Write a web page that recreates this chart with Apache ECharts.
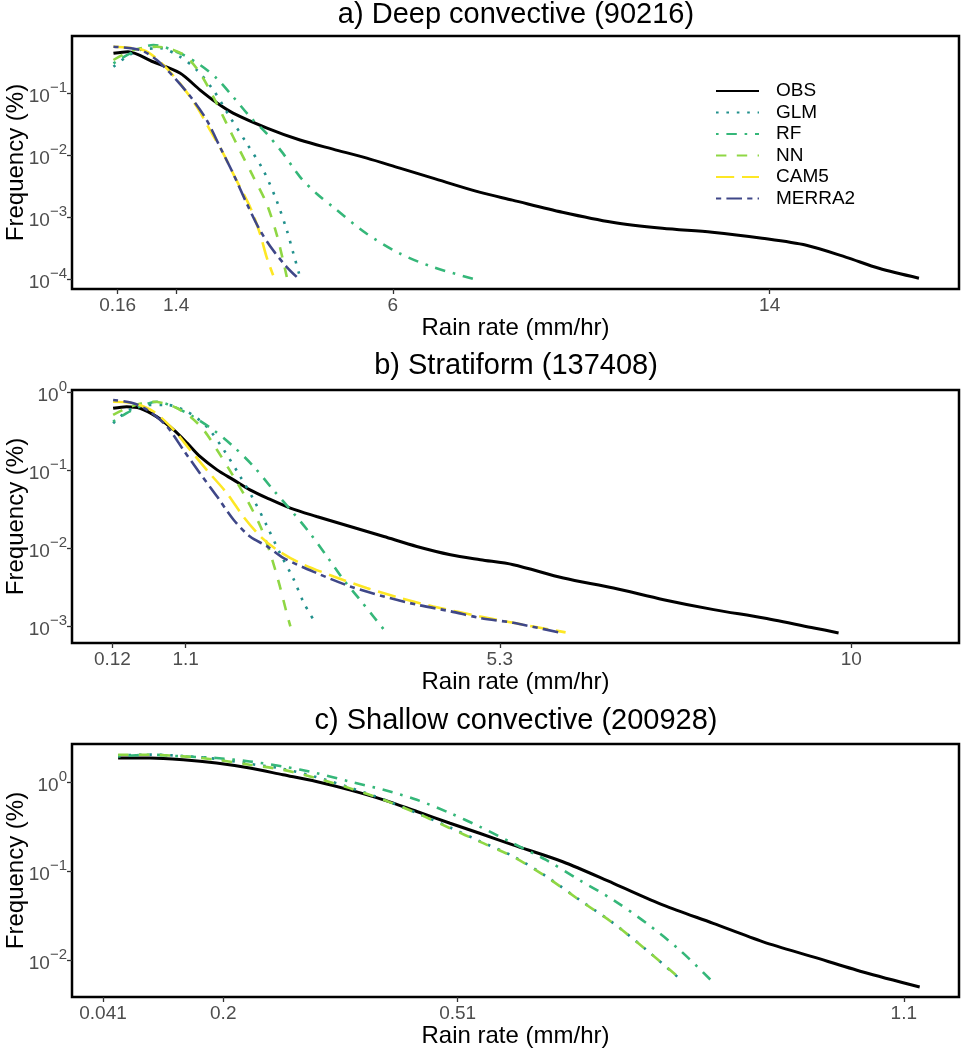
<!DOCTYPE html>
<html>
<head>
<meta charset="utf-8">
<script src="https://cdn.jsdelivr.net/npm/echarts@6/dist/echarts.min.js"></script>
<style>
  html, body { margin: 0; background: #fff; }
  #chart { width: 962px; height: 1050px; }
</style>
</head>
<body>
<div id="chart"></div>
<script>
// ---- data (rain rate mm/hr, frequency %) ----
const modelNames = ['OBS', 'GLM', 'RF', 'NN', 'CAM5', 'MERRA2']

// a) Deep convective
const deepTicksX = [0.16, 1.4, 6, 14]
const deepTicksY = [1e-4, 1e-3, 1e-2, 1e-1]
const deepOBS = [[0.07,0.444],[0.38,0.471],[0.91,0.324],[1.48,0.213],[1.91,0.113],[2.27,0.0697],[2.61,0.048],[3.33,0.0275],[4.03,0.0176],[4.73,0.01255],[5.45,0.00898],[6.15,0.00618],[6.85,0.00426],[7.84,0.00253],[8.54,0.00188],[9.6,0.0012],[10.66,0.000826],[11.72,0.00066],[12.78,0.00057],[13.84,0.000456],[14.78,0.000351],[15.63,0.000224],[16.32,0.000149],[17.17,0.000103]]
const deepGLM = [[0.07,0.269],[0.35,0.391],[0.63,0.502],[1.06,0.535],[1.48,0.391],[1.84,0.238],[2.19,0.113],[2.54,0.0418],[2.9,0.0155],[3.25,0.00574],[3.53,0.00188],[3.75,0.000614],[3.89,0.000258],[4.03,0.000108]]
const deepRF = [[0.07,0.305],[0.49,0.471],[0.92,0.605],[1.48,0.444],[1.91,0.287],[2.26,0.175],[2.61,0.088],[2.97,0.0418],[3.32,0.0225],[3.67,0.0107],[4.03,0.00447],[4.38,0.00241],[4.73,0.00146],[5.44,0.000543],[6.15,0.000258],[6.85,0.000156],[7.7,0.000101]]
const deepNN = [[0.07,0.346],[0.49,0.502],[0.99,0.567],[1.34,0.502],[1.62,0.391],[1.91,0.211],[2.19,0.088],[2.47,0.0327],[2.75,0.0121],[3.04,0.00447],[3.32,0.00166],[3.53,0.000543],[3.67,0.000201],[3.75,0.000108]]
const deepCAM5 = [[0.07,0.567],[0.7,0.502],[1.06,0.324],[1.48,0.145],[1.84,0.0607],[2.12,0.0255],[2.4,0.0107],[2.68,0.00395],[2.97,0.00146],[3.18,0.000543],[3.32,0.000227],[3.46,0.000115]]
const deepMERRA2 = [[0.07,0.567],[0.63,0.502],[0.99,0.346],[1.41,0.164],[1.76,0.078],[2.05,0.037],[2.33,0.01368],[2.61,0.00508],[2.9,0.00166],[3.18,0.000614],[3.46,0.000291],[3.75,0.000156],[3.96,0.000108]]

// b) Stratiform
const stratTicksX = [0.12, 1.1, 5.3, 10]
const stratTicksY = [1e-3, 1e-2, 1e-1, 1]
const stratOBS = [[0.13,0.628],[0.31,0.658],[0.49,0.628],[0.71,0.49],[0.94,0.331],[1.12,0.224],[1.29,0.151],[1.52,0.1017],[1.74,0.0757],[1.96,0.0564],[2.19,0.0442],[2.5,0.0329],[2.85,0.0257],[3.3,0.0191],[3.75,0.01422],[4.19,0.0106],[4.64,0.0083],[5.04,0.00716],[5.48,0.00618],[6.15,0.00417],[6.82,0.0031],[7.49,0.0022],[8.16,0.00164],[8.83,0.00128],[9.5,0.000955],[9.83,0.000824]]
const stratGLM = [[0.13,0.403],[0.31,0.568],[0.54,0.692],[0.85,0.692],[1.12,0.568],[1.38,0.365],[1.61,0.183],[1.83,0.0834],[2.01,0.042],[2.19,0.0191],[2.36,0.00871],[2.54,0.00409],[2.68,0.002],[2.85,0.00105]]
const stratRF = [[0.13,0.423],[0.31,0.542],[0.49,0.658],[0.71,0.762],[0.94,0.658],[1.2,0.49],[1.47,0.331],[1.74,0.202],[2.01,0.112],[2.27,0.0564],[2.54,0.0284],[2.76,0.0157],[2.99,0.00788],[3.21,0.00396],[3.43,0.0022],[3.61,0.00134],[3.77,0.000863]]
const stratNN = [[0.13,0.515],[0.36,0.658],[0.67,0.762],[0.94,0.658],[1.16,0.49],[1.34,0.331],[1.52,0.183],[1.74,0.0834],[1.92,0.042],[2.1,0.0191],[2.23,0.00871],[2.36,0.00325],[2.45,0.00149],[2.5,0.001]]
const stratCAM5 = [[0.13,0.762],[0.4,0.727],[0.67,0.568],[0.94,0.331],[1.16,0.183],[1.38,0.1017],[1.65,0.0512],[1.87,0.0257],[2.1,0.01422],[2.32,0.0096],[2.63,0.00649],[3.08,0.00437],[3.52,0.0031],[3.97,0.00231],[4.41,0.0018],[5.04,0.00134],[5.48,0.00111],[6.18,0.000838]]
const stratMERRA2 = [[0.13,0.802],[0.4,0.727],[0.62,0.568],[0.85,0.365],[1.07,0.183],[1.29,0.0922],[1.52,0.0463],[1.74,0.0233],[1.96,0.01422],[2.19,0.0106],[2.41,0.00752],[2.85,0.00483],[3.3,0.00325],[3.75,0.00242],[4.19,0.0019],[4.64,0.00156],[5.04,0.00128],[5.48,0.00111],[6.11,0.00083]]

// c) Shallow convective
const shallowTicksX = [0.041, 0.2, 0.51, 1.1]
const shallowTicksY = [1e-2, 1e-1, 1]
const shallowOBS = [[0.061,1.862],[0.103,1.862],[0.147,1.78],[0.191,1.634],[0.235,1.436],[0.279,1.208],[0.323,1.016],[0.367,0.819],[0.412,0.633],[0.456,0.468],[0.5,0.346],[0.539,0.267],[0.583,0.1976],[0.649,0.128],[0.716,0.0733],[0.782,0.0418],[0.848,0.0261],[0.914,0.0162],[0.98,0.01097],[1.046,0.00744],[1.121,0.00505]]
const shallowGLM = [[0.061,2.0],[0.103,2.03],[0.147,1.96],[0.191,1.82],[0.235,1.6],[0.279,1.41],[0.323,1.14],[0.367,0.87],[0.412,0.64],[0.456,0.45],[0.5,0.31],[0.539,0.218],[0.583,0.148],[0.627,0.088],[0.671,0.048],[0.716,0.0262],[0.76,0.0131],[0.804,0.0062]]
const shallowRF = [[0.061,1.94],[0.103,2.026],[0.147,1.94],[0.191,1.862],[0.235,1.704],[0.279,1.497],[0.323,1.262],[0.367,1.016],[0.412,0.819],[0.456,0.633],[0.5,0.449],[0.539,0.317],[0.583,0.2063],[0.627,0.134],[0.671,0.0798],[0.716,0.0476],[0.76,0.0261],[0.804,0.01305],[0.846,0.0059]]
const shallowNN = [[0.061,2.026],[0.103,2.026],[0.147,1.94],[0.191,1.78],[0.235,1.564],[0.279,1.374],[0.323,1.109],[0.367,0.856],[0.412,0.633],[0.456,0.449],[0.5,0.304],[0.539,0.215],[0.583,0.146],[0.627,0.087],[0.671,0.0476],[0.716,0.0261],[0.76,0.01305],[0.804,0.00628]]

// ---- styling ----
const FONT = '"Liberation Sans", Arial, sans-serif'
const lineLook = {
  OBS: { color: '#000000', width: 3, type: 'solid' },
  GLM: { color: '#21908C', width: 2.6, type: [2.6, 7.8] },
  RF: { color: '#35B779', width: 2.6, type: [2.6, 7.8, 10.4, 7.8] },
  NN: { color: '#8FD744', width: 2.6, type: [10.4, 10.4] },
  CAM5: { color: '#FDE725', width: 2.6, type: [18.2, 7.8] },
  MERRA2: { color: '#3F4788', width: 2.6, type: [5.2, 5.2, 15.6, 5.2] }
}

const panels = [
  { title: 'a) Deep convective (90216)', titleTop: 0, top: 36, xMin: -0.81, xMax: 18.02, yMin: 6.89e-5, yMax: 0.845,
    ticksX: deepTicksX, ticksY: deepTicksY,
    lines: { OBS: deepOBS, GLM: deepGLM, RF: deepRF, NN: deepNN, CAM5: deepCAM5, MERRA2: deepMERRA2 } },
  { title: 'b) Stratiform (137408)', titleTop: 351, top: 390, xMin: -0.42, xMax: 11.44, yMin: 6.12e-4, yMax: 1.076,
    ticksX: stratTicksX, ticksY: stratTicksY,
    lines: { OBS: stratOBS, GLM: stratGLM, RF: stratRF, NN: stratNN, CAM5: stratCAM5, MERRA2: stratMERRA2 } },
  { title: 'c) Shallow convective (200928)', titleTop: 706, top: 744, xMin: 0, xMax: 1.173, yMin: 3.9e-3, yMax: 2.673,
    ticksX: shallowTicksX, ticksY: shallowTicksY,
    lines: { OBS: shallowOBS, GLM: shallowGLM, RF: shallowRF, NN: shallowNN } }
]

const powLabel = (v) => {
  const e = Math.round(Math.log10(v))
  return '{b|10}{s|' + (e < 0 ? '\u2212' + (-e) : e) + '}'
}

const tickLabel = { fontSize: 19, color: '#4D4D4D', fontFamily: FONT }

const option = {
  animation: false,
  backgroundColor: '#fff',
  textStyle: { fontFamily: FONT },
  title: panels.map((p) => ({
    text: p.title, left: 516, top: p.titleTop, textAlign: 'center', padding: 0,
    textStyle: { fontSize: 29, fontWeight: 'normal', color: '#000', fontFamily: FONT }
  })),
  legend: {
    data: modelNames, orient: 'vertical', left: 715, top: 81.5, padding: 0,
    itemWidth: 43, itemHeight: 14, itemGap: 2.5,
    itemStyle: { opacity: 0 },
    textStyle: { fontSize: 19, color: '#000', fontFamily: FONT, padding: [0, 0, 0, 12] }
  },
  grid: panels.map((p) => ({
    left: 72, top: p.top, width: 887, height: 253, outerBoundsMode: 'none',
    show: true, borderColor: '#000', borderWidth: 2.5, backgroundColor: 'transparent'
  })),
  xAxis: panels.map((p, i) => ({
    type: 'value', gridIndex: i, min: p.xMin, max: p.xMax,
    axisLine: { show: false, onZero: false }, splitLine: { show: false },
    axisTick: { show: true, customValues: p.ticksX, length: 5, lineStyle: { color: '#333', width: 1.3 } },
    axisLabel: { customValues: p.ticksX, margin: 7, ...tickLabel },
    name: 'Rain rate (mm/hr)', nameLocation: 'middle', nameGap: 26,
    nameTextStyle: { fontSize: 24, color: '#000', fontFamily: FONT }
  })),
  yAxis: panels.map((p, i) => ({
    type: 'log', gridIndex: i, min: p.yMin, max: p.yMax,
    axisLine: { show: false, onZero: false }, splitLine: { show: false },
    axisTick: { show: true, customValues: p.ticksY, length: 5, lineStyle: { color: '#333', width: 1.3 } },
    axisLabel: {
      customValues: p.ticksY, margin: 5, formatter: powLabel,
      rich: {
        b: { ...tickLabel, lineHeight: 26, verticalAlign: 'bottom' },
        s: { ...tickLabel, fontSize: 15, lineHeight: 14, verticalAlign: 'top' }
      }
    },
    name: 'Frequency (%)', nameLocation: 'middle', nameGap: 44, nameMoveOverlap: false,
    nameTextStyle: { fontSize: 24, color: '#000', fontFamily: FONT }
  })),
  series: panels.flatMap((p, i) =>
    modelNames.filter((n) => p.lines[n]).map((n) => ({
      type: 'line', name: n, xAxisIndex: i, yAxisIndex: i,
      data: p.lines[n], symbol: 'none', smooth: 0.3,
      itemStyle: { color: lineLook[n].color },
      lineStyle: { ...lineLook[n], cap: 'butt' }
    }))
  )
}

const chart = echarts.init(document.getElementById('chart'))
chart.setOption(option)
</script>
</body>
</html>
